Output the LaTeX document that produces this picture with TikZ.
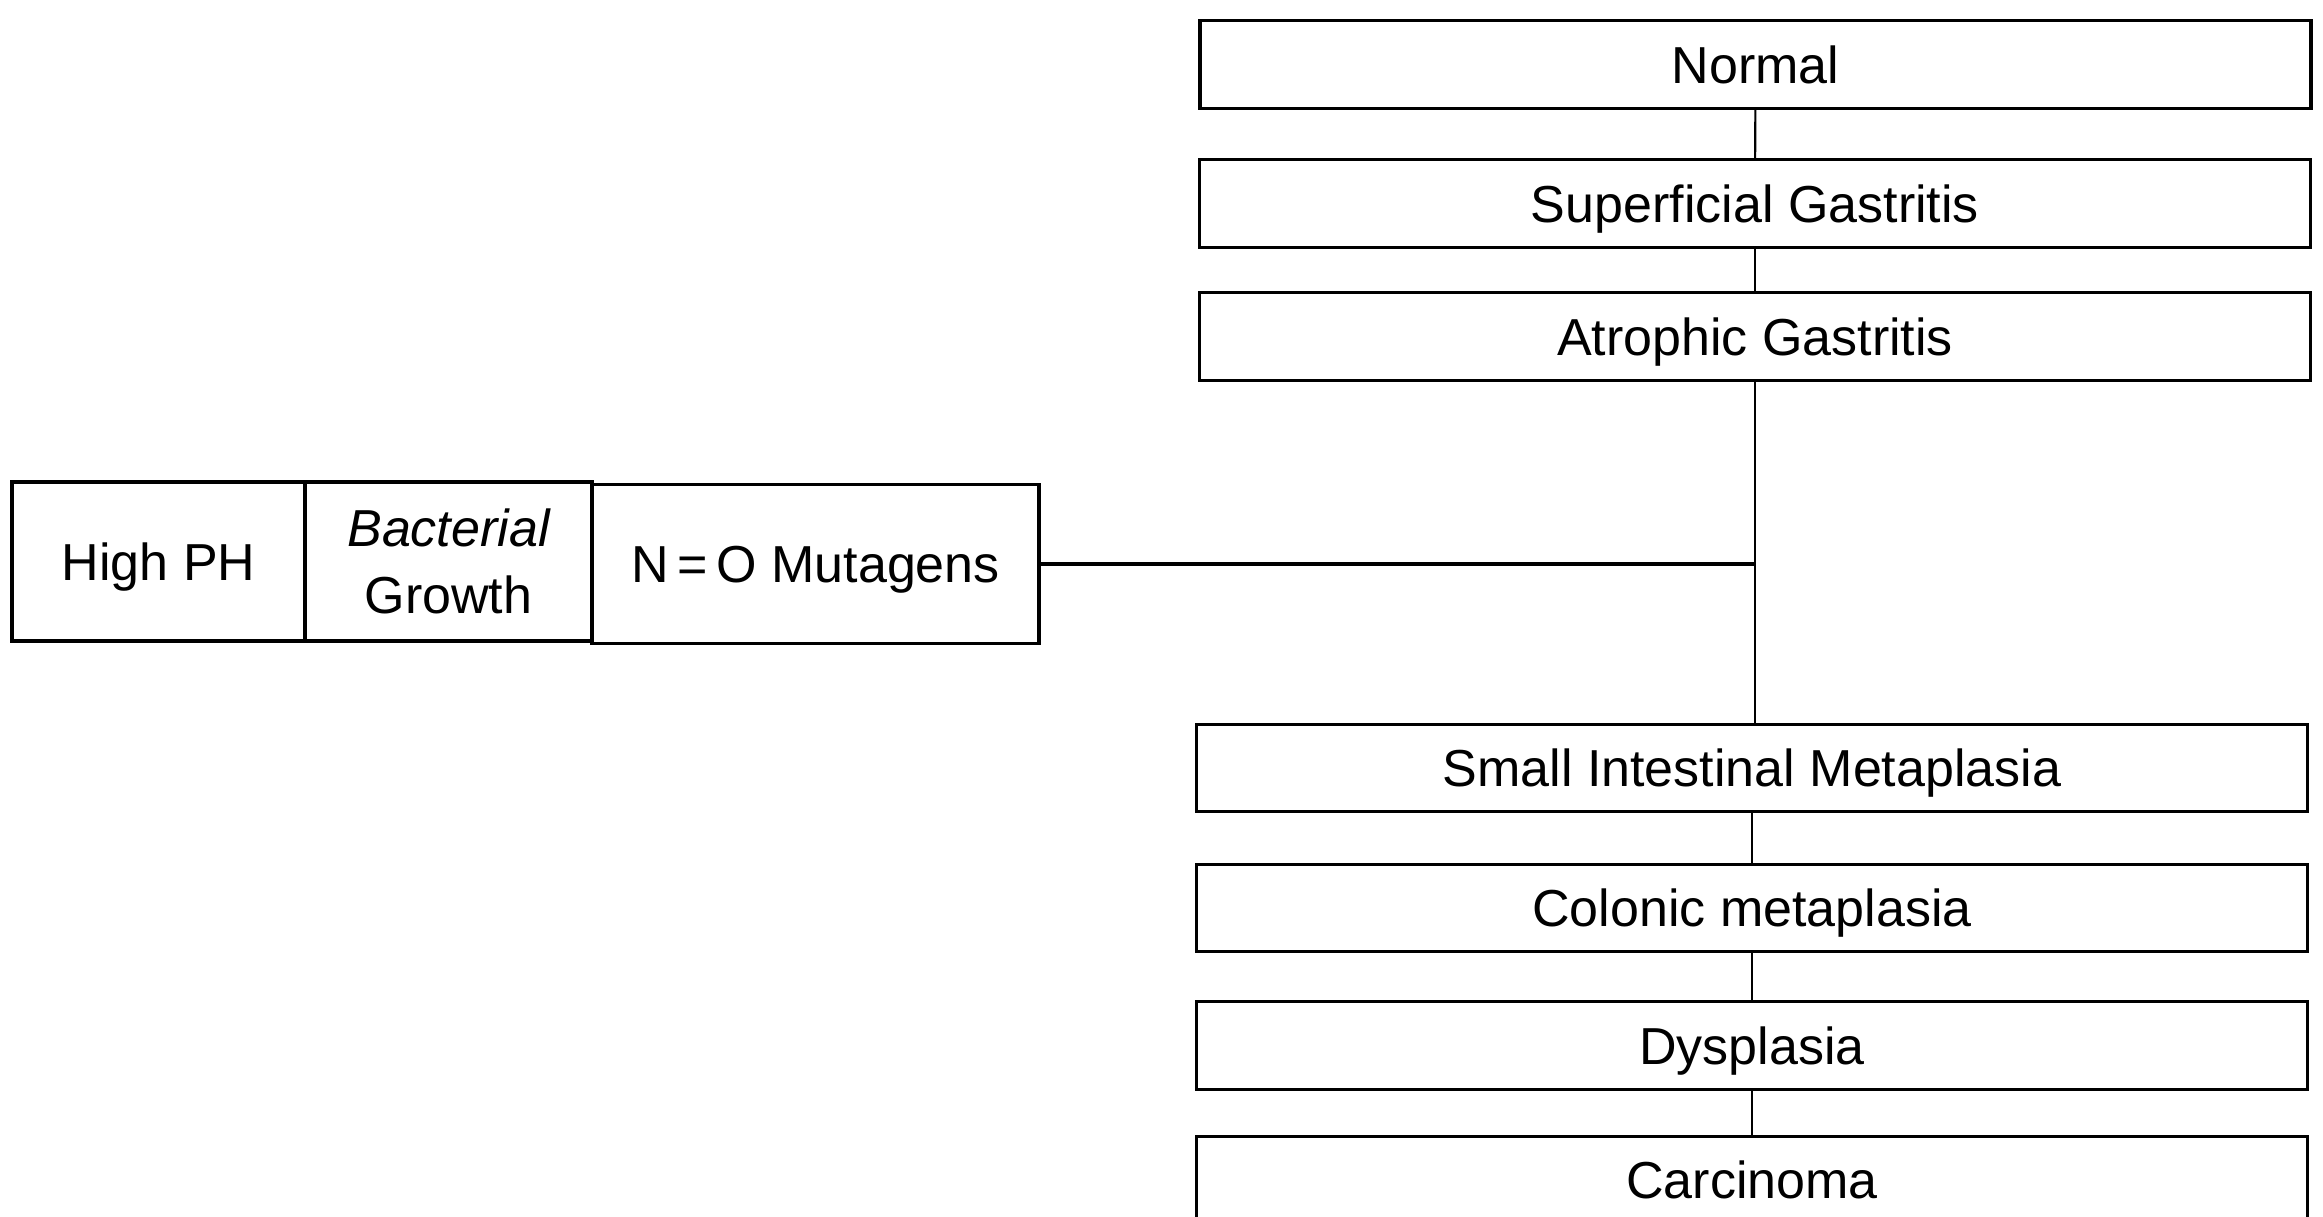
\documentclass[tikz,border=0pt]{standalone}
\usepackage{fontspec}
\setmainfont{Liberation Sans}
\begin{document}
\begin{tikzpicture}[x=0.1mm,y=-0.1mm,
  stage/.style={draw,line width=0.9pt,inner sep=0pt,minimum width=111.1mm,minimum height=8.75mm,
    text height=10.6pt,text depth=0pt,
    font=\fontsize{14.8pt}{18pt}\selectfont},
  cause/.style={draw,line width=0.9pt,inner sep=0pt,minimum height=15.9mm,
    font=\fontsize{14.8pt}{19pt}\selectfont,align=center},
  conn/.style={line width=0.6pt}]
\useasboundingbox (0,0) rectangle (2323,1216);
\node[stage] (normal) at (1755.5,64.5) {Normal};
\node[stage] (sup) at (1755,203.5) {Superficial Gastritis};
\node[stage] (atro) at (1755,336.5) {Atrophic Gastritis};
\node[stage] (small) at (1752,768) {Small Intestinal Metaplasia};
\node[stage] (colon) at (1752,908) {Colonic metaplasia};
\node[stage] (dys) at (1752,1045.5) {Dysplasia};
\node[stage] (carc) at (1752,1180) {Carcinoma};
\node[cause,minimum width=29.3mm,text height=10.6pt,text depth=0pt] (ph) at (158.5,561.5) {High PH};
\node[cause,minimum width=28.7mm] (bac) at (448.5,561.5) {\itshape Bacterial\\Growth};
\node[cause,minimum width=44.7mm,text height=10.6pt,text depth=0pt] (mut) at (815.5,564) {N\,=\,O Mutagens};
\draw[conn] (normal) -- (sup);
\draw[conn] (sup) -- (atro);
\draw[conn] (atro.south) -- (atro.south |- small.north);
\draw[line width=0.9pt] (mut.east) -- (mut.east -| atro.south);
\draw[conn] (small) -- (colon);
\draw[conn] (colon) -- (dys);
\draw[conn] (dys) -- (carc);
\end{tikzpicture}
\end{document}
